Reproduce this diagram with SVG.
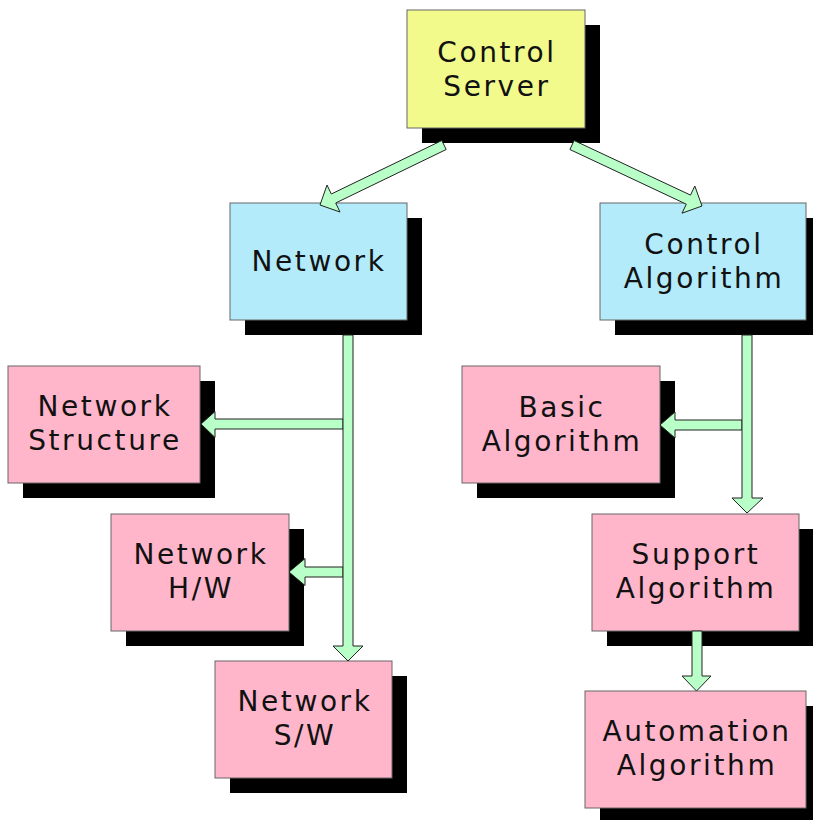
<svg xmlns="http://www.w3.org/2000/svg" width="813" height="820" viewBox="0 0 813 820">
<style>
.shadow{fill:#000}
.box{stroke:#666;stroke-width:1}
.y{fill:#f2fa8c}
.b{fill:#b3ebfa}
.p{fill:#ffb6cb}
text{font-family:"DejaVu Sans","Liberation Sans",sans-serif;font-size:28px;letter-spacing:2.6px;text-anchor:middle;fill:#111}
.arr{fill:#b8ffc8;stroke:#222;stroke-width:1;stroke-linejoin:miter}
</style>
<rect width="813" height="820" fill="#fff"/>
<g id="control-server">
<rect class="shadow" x="422" y="25" width="178" height="118"/>
<rect class="box y" x="407" y="10" width="178" height="118"/>
<text x="497" y="62">Control</text>
<text x="497" y="96">Server</text>
</g>
<g id="network">
<rect class="shadow" x="245" y="218" width="177" height="117"/>
<rect class="box b" x="230" y="203" width="177" height="117"/>
<text x="319" y="271">Network</text>
</g>
<g id="control-algorithm">
<rect class="shadow" x="615" y="218" width="206" height="117"/>
<rect class="box b" x="600" y="203" width="206" height="117"/>
<text x="704" y="254">Control</text>
<text x="704" y="288">Algorithm</text>
</g>
<g id="network-structure">
<rect class="shadow" x="23" y="381" width="192" height="117"/>
<rect class="box p" x="8" y="366" width="192" height="117"/>
<text x="105" y="416">Network</text>
<text x="105" y="450">Structure</text>
</g>
<g id="basic-algorithm">
<rect class="shadow" x="477" y="381" width="198" height="117"/>
<rect class="box p" x="462" y="366" width="198" height="117"/>
<text x="562" y="417">Basic</text>
<text x="562" y="451">Algorithm</text>
</g>
<g id="network-hw">
<rect class="shadow" x="126" y="529" width="178" height="117"/>
<rect class="box p" x="111" y="514" width="178" height="117"/>
<text x="201" y="564">Network</text>
<text x="201" y="598">H/W</text>
</g>
<g id="support-algorithm">
<rect class="shadow" x="607" y="529" width="207" height="117"/>
<rect class="box p" x="592" y="514" width="207" height="117"/>
<text x="696" y="564">Support</text>
<text x="696" y="598">Algorithm</text>
</g>
<g id="network-sw">
<rect class="shadow" x="230" y="676" width="177" height="117"/>
<rect class="box p" x="215" y="661" width="177" height="117"/>
<text x="305" y="711">Network</text>
<text x="305" y="745">S/W</text>
</g>
<g id="automation-algorithm">
<rect class="shadow" x="600" y="706" width="221" height="117"/>
<rect class="box p" x="585" y="691" width="221" height="117"/>
<text x="697" y="741">Automation</text>
<text x="697" y="775">Algorithm</text>
</g>
<g id="connectors">
<polygon class="arr" points="446.2,149.5 335.7,203 340,212 320,205 327,185 331.3,194 441.8,140.5"/>
<polygon class="arr" points="569.9,149.5 686.3,204.2 682,213.2 702,206 694.8,186 690.5,195.1 574.1,140.5"/>
<polygon class="arr" points="343,419 215,419 215,411.5 201,424 215,437.5 215,429 343,429"/>
<polygon class="arr" points="343,567 305,567 305,558.5 289,572 305,585.5 305,577 343,577"/>
<polygon class="arr" points="343,335 353,335 353,646 363,646 348,661 333,646 343,646"/>
<polygon class="arr" points="742,420 675,420 675,412 660,425 675,438 675,430 742,430"/>
<polygon class="arr" points="742,335 752,335 752,498 763,498 747,513 732,498 742,498"/>
<polygon class="arr" points="692,631 702,631 702,676 711,676 696.5,691 682,676 692,676"/>
</g>
</svg>
